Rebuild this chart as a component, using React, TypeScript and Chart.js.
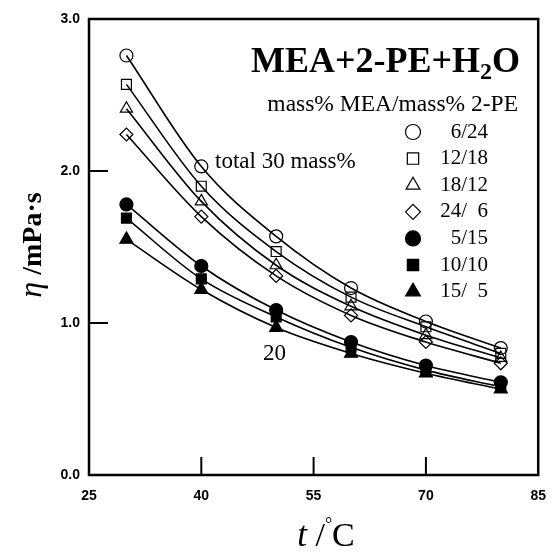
import React, { useEffect, useRef } from 'react';
import { Chart, registerables } from 'chart.js';
import { drawPoint } from 'chart.js/helpers';

Chart.register(...registerables);

// ---- data ----
const temperatures = [30, 40, 50, 60, 70, 80];
const seriesLabels = ['6/24', '12/18', '18/12', '24/  6', '5/15', '10/10', '15/  5'];
const mea6pe24 = [2.76, 2.03, 1.57, 1.23, 1.01, 0.835];
const mea12pe18 = [2.57, 1.9, 1.47, 1.17, 0.975, 0.8];
const mea18pe12 = [2.41, 1.8, 1.38, 1.11, 0.92, 0.77];
const mea24pe6 = [2.24, 1.7, 1.31, 1.05, 0.875, 0.735];
const mea5pe15 = [1.78, 1.375, 1.085, 0.875, 0.72, 0.61];
const mea10pe10 = [1.69, 1.29, 1.04, 0.84, 0.69, 0.58];
const mea15pe5 = [1.55, 1.22, 0.97, 0.8, 0.67, 0.565];
const xTicks = [25, 40, 55, 70, 85];
const yTicks = [0, 1, 2, 3];

const seriesValues = [mea6pe24, mea12pe18, mea18pe12, mea24pe6, mea5pe15, mea10pe10, mea15pe5];
const pointStyles = ['circle', 'rect', 'triangle', 'rectRot', 'circle', 'rect', 'triangle'];
const filled = [false, false, false, false, true, true, true];
const radii = [6.5, 7, 7, 6.5, 6.5, 7, 7.5];

const SERIF = '"Liberation Serif", "Times New Roman", serif';
const SANS = '"Liberation Sans", Arial, sans-serif';

const decor = {
  id: 'decor',
  afterDraw(chart: any) {
    const { ctx, chartArea: a, scales } = chart;
    const x = scales.x;
    const y = scales.y;
    ctx.save();
    ctx.strokeStyle = '#000';
    ctx.fillStyle = '#000';
    ctx.lineWidth = 2.5;
    ctx.strokeRect(a.left, a.top, a.right - a.left, a.bottom - a.top);
    ctx.lineWidth = 2;
    xTicks.slice(1, -1).forEach((v) => {
      const px = x.getPixelForValue(v);
      ctx.beginPath();
      ctx.moveTo(px, a.bottom);
      ctx.lineTo(px, a.bottom - 18);
      ctx.stroke();
    });
    yTicks.slice(1, -1).forEach((v) => {
      const py = y.getPixelForValue(v);
      ctx.beginPath();
      ctx.moveTo(a.left, py);
      ctx.lineTo(a.left + 19, py);
      ctx.stroke();
    });

    // Title MEA+2-PE+H2O (right aligned)
    ctx.textBaseline = 'alphabetic';
    ctx.textAlign = 'left';
    const big = `bold 36px ${SERIF}`;
    const sub = `bold 24px ${SERIF}`;
    ctx.font = big;
    const w1 = ctx.measureText('MEA+2-PE+H').width;
    const w3 = ctx.measureText('O').width;
    ctx.font = sub;
    const w2 = ctx.measureText('2').width;
    const right = 520;
    let sx = right - (w1 + w2 + w3);
    const base = 72;
    ctx.font = big;
    ctx.fillText('MEA+2-PE+H', sx, base);
    sx += w1;
    ctx.font = sub;
    ctx.fillText('2', sx, base + 7);
    sx += w2;
    ctx.font = big;
    ctx.fillText('O', sx, base);

    // subtitle
    ctx.font = `23.5px ${SERIF}`;
    ctx.textAlign = 'right';
    ctx.textBaseline = 'middle';
    ctx.fillText('mass% MEA/mass% 2-PE', 518, 105);

    // legend
    const legendTop = 132;
    const step = 26.6;
    seriesLabels.forEach((lab, i) => {
      const ly = legendTop + i * step;
      ctx.fillStyle = filled[i] ? '#000' : '#fff';
      ctx.strokeStyle = '#000';
      ctx.lineWidth = 1.2;
      drawPoint(ctx, { pointStyle: pointStyles[i], radius: radii[i] + 1, borderWidth: 1.2, rotation: 0 }, 413, ly);
      ctx.fillStyle = '#000';
      ctx.font = `21px ${SERIF}`;
      ctx.textAlign = 'right';
      ctx.fillText(lab, 488, ly);
    });

    // annotations
    ctx.textAlign = 'left';
    ctx.font = `23px ${SERIF}`;
    ctx.fillText('total 30 mass%', 215, 162);
    ctx.fillText('20', 263, 354);

    // x title: t /°C
    ctx.textBaseline = 'alphabetic';
    const xb = 546;
    ctx.font = `italic 35px ${SERIF}`;
    const tW = ctx.measureText('t').width;
    ctx.font = `34px ${SERIF}`;
    const slW = ctx.measureText(' /').width;
    const cW = ctx.measureText('C').width;
    ctx.font = `18px ${SERIF}`;
    const dW = ctx.measureText('°').width;
    let tx = 326 - (tW + slW + dW + cW) / 2;
    ctx.font = `italic 35px ${SERIF}`;
    ctx.fillText('t', tx, xb);
    tx += tW;
    ctx.font = `34px ${SERIF}`;
    ctx.fillText(' /', tx, xb);
    tx += slW;
    ctx.font = `18px ${SERIF}`;
    ctx.fillText('°', tx, xb - 16);
    tx += dW;
    ctx.font = `34px ${SERIF}`;
    ctx.fillText('C', tx, xb);

    // y title: η /mPa·s
    ctx.save();
    ctx.translate(41, 245);
    ctx.rotate(-Math.PI / 2);
    ctx.font = `italic 32px ${SERIF}`;
    const eW = ctx.measureText('η').width;
    ctx.font = `bold 28px ${SERIF}`;
    const restW = ctx.measureText(' /mPa·s').width;
    let ry = -(eW + restW) / 2;
    ctx.font = `italic 32px ${SERIF}`;
    ctx.fillText('η', ry, 0);
    ry += eW;
    ctx.font = `bold 28px ${SERIF}`;
    ctx.fillText(' /mPa·s', ry, 0);
    ctx.restore();

    ctx.restore();
  },
};

export default function App() {
  const ref = useRef<HTMLCanvasElement | null>(null);
  useEffect(() => {
    if (!ref.current) return;
    const datasets = seriesValues.map((vals, i) => ({
      label: seriesLabels[i],
      data: temperatures.map((t, j) => ({ x: t, y: vals[j] })),
      showLine: true,
      cubicInterpolationMode: 'monotone' as const,
      borderColor: '#000',
      borderWidth: 1.6,
      pointStyle: pointStyles[i],
      pointRadius: radii[i],
      pointBorderWidth: 1.2,
      pointBorderColor: '#000',
      pointBackgroundColor: filled[i] ? '#000' : 'rgba(0,0,0,0)',
      fill: false,
    }));
    const chart = new Chart(ref.current, {
      type: 'line',
      data: { datasets },
      options: {
        responsive: false,
        animation: false,
        layout: { padding: { top: 19, right: 14, left: 0, bottom: 0 } },
        plugins: { legend: { display: false }, tooltip: { enabled: false }, title: { display: false } },
        scales: {
          x: {
            type: 'linear',
            min: 25,
            max: 85,
            afterFit: (s: any) => { s.height = 79; },
            afterBuildTicks: (s: any) => { s.ticks = xTicks.map((v) => ({ value: v })); },
            grid: { display: false, drawTicks: false },
            border: { display: false },
            ticks: {
              padding: 13,
              color: '#000',
              font: { family: SANS, size: 14, weight: 'bold' },
              callback: (v: any) => String(v),
            },
          },
          y: {
            type: 'linear',
            min: 0,
            max: 3,
            afterFit: (s: any) => { s.width = 89; },
            afterBuildTicks: (s: any) => { s.ticks = yTicks.map((v) => ({ value: v })); },
            grid: { display: false, drawTicks: false },
            border: { display: false },
            ticks: {
              padding: 9,
              color: '#000',
              font: { family: SANS, size: 14, weight: 'bold' },
              callback: (v: any) => Number(v).toFixed(1),
            },
          },
        },
      },
      plugins: [decor],
    });
    return () => chart.destroy();
  }, []);
  return (
    <div style={{ position: 'fixed', left: 0, top: 0, width: 559, height: 554, background: '#fff' }}>
      <canvas ref={ref} width={559} height={554} style={{ width: 559, height: 554, display: 'block' }} />
    </div>
  );
}
